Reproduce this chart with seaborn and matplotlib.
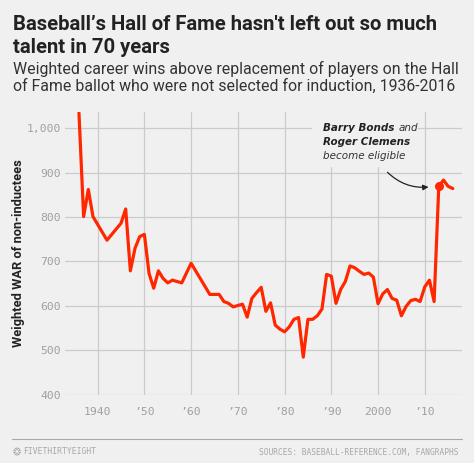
import numpy as np
import pandas as pd
import matplotlib
matplotlib.use("Agg")
import matplotlib.pyplot as plt
from matplotlib.patches import Rectangle
import seaborn as sns

# weighted WAR of players left out of the Hall, by election year
years = [1936, 1937, 1938, 1939, 1942, 1945, 1946, 1947, 1948, 1949, 1950,
         1951, 1952, 1953, 1954, 1955, 1956, 1958, 1960, 1964, 1966, 1967,
         1968, 1969, 1970, 1971, 1972, 1973, 1974, 1975, 1976, 1977, 1978,
         1979, 1980, 1981, 1982, 1983, 1984, 1985, 1986, 1987, 1988, 1989,
         1990, 1991, 1992, 1993, 1994, 1995, 1996, 1997, 1998, 1999, 2000,
         2001, 2002, 2003, 2004, 2005, 2006, 2007, 2008, 2009, 2010, 2011,
         2012, 2013, 2014, 2015, 2016]
war = [1034, 801, 862, 801, 748, 786, 818, 679, 730, 756, 761,
       673, 640, 679, 662, 652, 658, 652, 696, 626, 626, 610,
       606, 598, 601, 604, 575, 617, 630, 642, 588, 607, 557,
       548, 542, 553, 570, 574, 485, 570, 570, 578, 593, 671,
       667, 606, 637, 655, 690, 686, 678, 671, 674, 665, 605,
       627, 637, 617, 613, 578, 599, 612, 615, 610, 643, 658,
       610, 869, 883, 869, 864]

xticks = [1940, 1950, 1960, 1970, 1980, 1990, 2000, 2010]
xticklabels = ["1940", "\u201950", "\u201960", "\u201970", "\u201980", "\u201990", "2000", "\u201910"]
yticks = [400, 500, 600, 700, 800, 900, 1000]
yticklabels = ["400", "500", "600", "700", "800", "900", "1,000"]
highlight_year = 2013

bg = "#f0f0f0"
red = "#ff2700"
dark = "#222222"
sns.set_theme(style="whitegrid", rc={"axes.facecolor": bg, "figure.facecolor": bg,
                                     "grid.color": "#cbcbcb", "grid.linewidth": 0.9})
plt.rcParams["font.family"] = ["DejaVu Sans"]

df = pd.DataFrame({"year": years, "war": war})

fig = plt.figure(figsize=(4.74, 4.63), dpi=100)
ax = fig.add_axes([0.137, 0.147, 0.838, 0.611])
sns.lineplot(data=df, x="year", y="war", color=red, linewidth=2.3, ax=ax, zorder=3)
hl = df[df.year == highlight_year]
ax.plot(hl.year, hl.war, "o", color=red, markersize=5.5, zorder=5)

ax.set_xlim(1933, 2018)
ax.set_ylim(400, 1036)
ax.set_xticks(xticks)
ax.set_xticklabels(xticklabels)
ax.set_yticks(yticks)
ax.set_yticklabels(yticklabels)
for s in ax.spines.values():
    s.set_visible(False)
ax.tick_params(length=0, labelsize=8.2, labelcolor="#a0a0a0", pad=3)
ax.tick_params(axis="x", pad=9)
for lab in ax.get_xticklabels() + ax.get_yticklabels():
    lab.set_family("DejaVu Sans Mono")
ax.set_xlabel("")
ax.set_ylabel("Weighted WAR of non-inductees", fontsize=9.3, fontweight="bold",
              color=dark, family="Roboto")
ax.yaxis.set_label_coords(-0.1, 0.5)

# annotation, on a patch that hides the grid behind it
ax.add_patch(Rectangle((1985.9, 912), 22.7, 130, facecolor=bg, edgecolor="none", zorder=1))
ax.annotate("", xy=(2011.4, 868), xytext=(2001.6, 905),
            arrowprops=dict(arrowstyle="-|>", color=dark, lw=0.9,
                            connectionstyle="arc3,rad=0.25", mutation_scale=8), zorder=4)
tx = 1988.3
t1 = ax.text(tx, 993, "Barry Bonds", fontsize=7.5, fontweight="bold", style="italic",
             color=dark, va="baseline", zorder=4)
ax.annotate("and", xy=(1, 993), xycoords=(t1, "data"), xytext=(2.5, 0),
            textcoords="offset points", fontsize=7.5, style="italic", color="#333333",
            va="baseline", zorder=4)
ax.text(tx, 961, "Roger Clemens", fontsize=7.5, fontweight="bold", style="italic",
        color=dark, va="baseline", zorder=4)
ax.text(tx, 930, "become eligible", fontsize=7.5, style="italic", color="#333333",
        va="baseline", zorder=4)

# titles
fig.text(0.027, 1 - 30 / 463, "Baseball\u2019s Hall of Fame hasn't left out so much",
         fontsize=14.6, fontweight="bold", color=dark, va="baseline", family="Roboto")
fig.text(0.027, 1 - 53 / 463, "talent in 70 years", fontsize=14.6,
         fontweight="bold", color=dark, va="baseline", family="Roboto")
fig.text(0.027, 1 - 74 / 463, "Weighted career wins above replacement of players on the Hall",
         fontsize=11.4, color="#333333", va="baseline", family="Roboto")
fig.text(0.027, 1 - 91 / 463, "of Fame ballot who were not selected for induction, 1936-2016",
         fontsize=11.4, color="#333333", va="baseline", family="Roboto")

# footer
fig.add_artist(plt.Line2D([12 / 474, 462 / 474], [1 - 439 / 463, 1 - 439 / 463],
                          color="#a8a8a8", lw=0.8))
fig.text(0.027, 1 - 452 / 463, "\u2742", fontsize=7, color="#a8a8a8", va="center")
fig.text(0.049, 1 - 452 / 463, "FIVETHIRTYEIGHT", fontsize=5.8, color="#a8a8a8",
         family="DejaVu Sans Mono", va="center")
fig.text(0.968, 1 - 452 / 463, "SOURCES: BASEBALL-REFERENCE.COM, FANGRAPHS", fontsize=5.7,
         color="#a8a8a8", family="DejaVu Sans Mono", va="center", ha="right")

fig.savefig("out.png", dpi=100, facecolor=bg)
